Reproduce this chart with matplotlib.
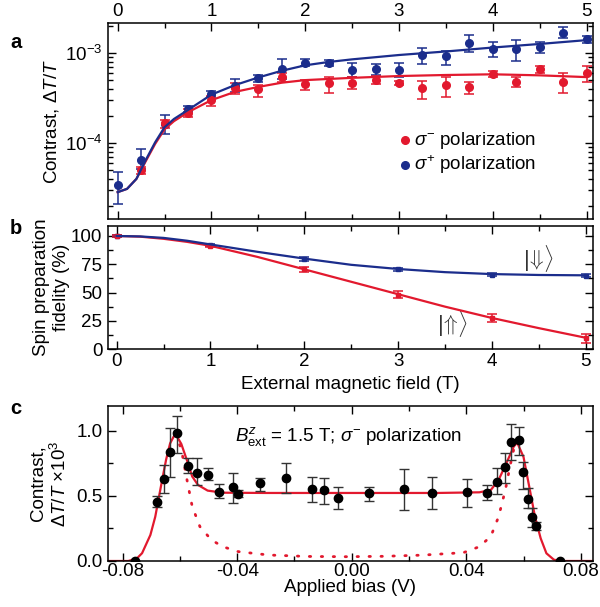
import matplotlib
matplotlib.use('Agg')
import matplotlib.pyplot as plt
import numpy as np
from matplotlib.ticker import MultipleLocator, LogLocator, FormatStrFormatter

plt.rcParams['font.family'] = ['Liberation Sans', 'DejaVu Sans']
plt.rcParams['mathtext.fontset'] = 'custom'
plt.rcParams['mathtext.rm'] = 'Liberation Sans'
plt.rcParams['mathtext.it'] = 'Liberation Sans:italic'
plt.rcParams['mathtext.bf'] = 'Liberation Sans:bold'
plt.rcParams['font.size'] = 13.5

red = '#e2192e'
blue = '#1b2d8c'

# ---- panel a: contrast vs field
field_a = [0, 0.25, 0.5, 0.75, 1.0, 1.25, 1.5, 1.75, 2.0, 2.25, 2.5, 2.75, 3.0,
           3.25, 3.5, 3.75, 4.0, 4.25, 4.5, 4.75, 5.0]
sp_val = [3.41e-5, 6.5e-5, 1.63e-4, 2.37e-4, 3.5e-4, 4.3e-4, 5.24e-4, 6.6e-4, 7.8e-4, 7.8e-4,
          6.5e-4, 6.6e-4, 6.5e-4, 9.5e-4, 9.3e-4, 1.3e-3, 1.1e-3, 1.1e-3, 1.16e-3, 1.68e-3, 1.42e-3]
sp_hi = [4.8e-5, 8.6e-5, 2.05e-4, 2.55e-4, 3.78e-4, 5.2e-4, 5.7e-4, 8.5e-4, 8.5e-4, 8.4e-4,
         7.8e-4, 7.5e-4, 7.8e-4, 1.15e-3, 1.06e-3, 1.58e-3, 1.34e-3, 1.4e-3, 1.34e-3, 1.93e-3, 1.55e-3]
sp_lo = [2.1e-5, 5.1e-5, 1.25e-4, 2.2e-4, 3.22e-4, 3.7e-4, 4.8e-4, 5.1e-4, 7.2e-4, 7.25e-4,
         5.37e-4, 5.7e-4, 5.37e-4, 7.5e-4, 7.36e-4, 1.03e-3, 9.1e-4, 8.2e-4, 9.9e-4, 1.46e-3, 1.28e-3]

field_am = field_a[1:]
sm_val = [5.0e-5, 1.65e-4, 2.17e-4, 3.0e-4, 4.04e-4, 3.95e-4, 5.37e-4, 4.5e-4, 4.6e-4, 4.6e-4,
          5.0e-4, 4.7e-4, 4.04e-4, 4.4e-4, 4.16e-4, 5.8e-4, 4.8e-4, 6.6e-4, 4.8e-4, 5.94e-4]
sm_hi = [5.4e-5, 1.8e-4, 2.37e-4, 3.33e-4, 4.6e-4, 4.4e-4, 5.94e-4, 5.0e-4, 5.45e-4, 5.37e-4,
         5.5e-4, 4.95e-4, 4.93e-4, 5.37e-4, 4.8e-4, 6.3e-4, 5.37e-4, 7.2e-4, 5.94e-4, 7.2e-4]
sm_lo = [4.5e-5, 1.46e-4, 1.96e-4, 2.57e-4, 3.5e-4, 3.22e-4, 4.8e-4, 3.9e-4, 3.63e-4, 3.95e-4,
         4.5e-4, 4.45e-4, 3.06e-4, 3.22e-4, 3.5e-4, 5.37e-4, 4.2e-4, 6.04e-4, 3.63e-4, 4.8e-4]

fit_x_a = [0, 0.1, 0.2, 0.3, 0.4, 0.5, 0.6, 0.75, 1.0, 1.25, 1.5, 1.75, 2.0, 2.25, 2.5,
           3.0, 3.5, 4.0, 4.5, 5.0]
fit_sp = [2.85e-5, 3.1e-5, 4.0e-5, 6.5e-5, 1.02e-4, 1.5e-4, 1.85e-4, 2.33e-4, 3.45e-4, 4.4e-4,
          5.35e-4, 6.35e-4, 7.3e-4, 7.95e-4, 8.5e-4, 9.5e-4, 1.04e-3, 1.15e-3, 1.26e-3, 1.39e-3]
fit_sm = [2.85e-5, 3.1e-5, 4.0e-5, 6.3e-5, 9.8e-5, 1.42e-4, 1.75e-4, 2.2e-4, 3.0e-4, 3.7e-4,
          4.2e-4, 4.68e-4, 5.0e-4, 5.15e-4, 5.3e-4, 5.55e-4, 5.7e-4, 5.8e-4, 5.65e-4, 5.4e-4]

# ---- panel b: spin preparation fidelity
field_b = [0, 1, 2, 3, 4, 5]
fid_down = [100, 92, 79.5, 70.5, 65.8, 65.0]
fid_down_err = [0.6, 1.0, 1.5, 1.5, 1.5, 1.5]
fid_up = [100, 91, 70.5, 48, 27.5, 9.5]
fid_up_err = [0.6, 1.0, 2.0, 3.0, 3.2, 3.8]
fit_x_b = [0, 0.25, 0.5, 0.75, 1.0, 1.5, 2.0, 2.5, 3.0, 3.5, 4.0, 4.5, 5.0]
fit_down = [100, 99.6, 98.3, 95.8, 92.5, 86, 80, 74.5, 70.8, 68, 66.3, 65.5, 65.2]
fit_up = [100, 99.4, 97.5, 94.8, 91.3, 81.5, 70.5, 59.5, 48.5, 37.5, 27.5, 18.5, 10]

# ---- panel c: contrast vs applied bias
bias = [-0.0755, -0.068, -0.0657, -0.0633, -0.061, -0.0573, -0.054, -0.0503, -0.0463, -0.0416,
        -0.0396, -0.032, -0.0229, -0.0138, -0.0098, -0.0049, 0.0061, 0.0181, 0.0281, 0.0403,
        0.0473, 0.0506, 0.0537, 0.0557, 0.0583, 0.0599, 0.0617, 0.063, 0.0644, 0.0729]
con = [0.0, 0.456, 0.628, 0.838, 0.982, 0.731, 0.68, 0.662, 0.533, 0.567,
       0.515, 0.603, 0.641, 0.551, 0.546, 0.482, 0.521, 0.551, 0.521, 0.531,
       0.526, 0.61, 0.721, 0.913, 0.931, 0.687, 0.477, 0.341, 0.269, 0.0]
con_hi = [0.0, 0.5, 0.738, 1.026, 1.115, 0.79, 0.79, 0.713, 0.592, 0.68,
          0.545, 0.636, 0.756, 0.649, 0.641, 0.567, 0.572, 0.705, 0.644, 0.631,
          0.585, 0.713, 0.828, 1.054, 1.033, 0.764, 0.56, 0.405, 0.30, 0.0]
con_lo = [0.0, 0.413, 0.52, 0.649, 0.833, 0.674, 0.585, 0.623, 0.482, 0.449,
          0.49, 0.541, 0.521, 0.456, 0.438, 0.397, 0.464, 0.392, 0.397, 0.418,
          0.469, 0.515, 0.603, 0.777, 0.815, 0.552, 0.405, 0.264, 0.235, 0.0]

fit_x_c = [-0.085, -0.078, -0.075, -0.0732, -0.0703, -0.0686, -0.0675, -0.0663, -0.0648, -0.0634,
           -0.0616, -0.0595, -0.057, -0.0557, -0.0537, -0.0503, -0.045, -0.03, 0.0, 0.03,
           0.0446, 0.0486, 0.0513, 0.054, 0.0566, 0.0578, 0.059, 0.060, 0.062, 0.064,
           0.066, 0.068, 0.0706, 0.073, 0.085]
fit_c = [0, 0, 0.02, 0.06, 0.2, 0.34, 0.47, 0.61, 0.78, 0.905,
         0.98, 0.90, 0.74, 0.65, 0.585, 0.541, 0.525, 0.523, 0.523, 0.523,
         0.528, 0.546, 0.623, 0.751, 0.88, 0.91, 0.85, 0.80, 0.572, 0.341,
         0.174, 0.059, 0.01, 0.0, 0]
dot_x_c = [-0.0616, -0.0595, -0.0574, -0.0557, -0.053, -0.049, -0.045, -0.0396, -0.029, -0.0156,
           -0.002, 0.0112, 0.0246, 0.039, 0.0446, 0.0486, 0.0513, 0.0537, 0.0553, 0.0566]
dot_c = [0.98, 0.86, 0.61, 0.42, 0.264, 0.162, 0.11, 0.072, 0.046, 0.035,
         0.033, 0.036, 0.045, 0.064, 0.11, 0.19, 0.34, 0.55, 0.73, 0.86]

fig = plt.figure(figsize=(6.0, 6.07), dpi=100)
axa = fig.add_axes([0.18, 0.639, 0.808, 0.323])
axb = fig.add_axes([0.18, 0.425, 0.808, 0.203])
axc = fig.add_axes([0.18, 0.0758, 0.808, 0.255])

for ax in (axa, axb, axc):
    for s in ax.spines.values():
        s.set_linewidth(1.1)
    ax.tick_params(which='both', direction='in', top=True, right=True, width=1.0, pad=4)
    ax.tick_params(which='major', length=6)
    ax.tick_params(which='minor', length=3.5)

# panel a
sp_val = np.array(sp_val); sm_val = np.array(sm_val)
axa.errorbar(field_a, sp_val, yerr=[sp_val - np.array(sp_lo), np.array(sp_hi) - sp_val],
             fmt='o', color=blue, ms=5.5, capsize=3.5, elinewidth=1.1, capthick=1.1, zorder=3)
axa.errorbar(field_am, sm_val, yerr=[sm_val - np.array(sm_lo), np.array(sm_hi) - sm_val],
             fmt='o', color=red, ms=5.5, capsize=3.5, elinewidth=1.1, capthick=1.1, zorder=3)
axa.plot(fit_x_a, fit_sm, color=red, lw=1.6, zorder=4)
axa.plot(fit_x_a, fit_sp, color=blue, lw=1.6, zorder=4)
axa.set_yscale('log')
axa.set_xlim(-0.103, 5.067)
axa.set_ylim(1.43e-5, 2.15e-3)
axa.xaxis.set_major_locator(MultipleLocator(1))
axa.xaxis.set_minor_locator(MultipleLocator(0.5))
axa.tick_params(axis='x', which='both', labeltop=True, labelbottom=False, pad=2.5)
axa.yaxis.set_major_locator(LogLocator(base=10, numticks=10))
axa.yaxis.set_minor_locator(LogLocator(base=10, subs=np.arange(2, 10), numticks=10))
axa.set_ylabel(r'Contrast, $\Delta T/T$')
axa.yaxis.set_label_coords(-0.097, 0.5)
axa.plot([0.612], [0.403], 'o', color=red, ms=5.5, transform=axa.transAxes)
axa.plot([0.612], [0.276], 'o', color=blue, ms=5.5, transform=axa.transAxes)
axa.text(0.632, 0.403, r'$\sigma^{-}$ polarization', transform=axa.transAxes, va='center', ha='left')
axa.text(0.632, 0.276, r'$\sigma^{+}$ polarization', transform=axa.transAxes, va='center', ha='left')

# panel b
axb.errorbar(field_b, fid_down, yerr=fid_down_err, fmt='s', color=blue, ms=3.5,
             capsize=3.5, elinewidth=1.1, capthick=1.1, zorder=3)
axb.errorbar(field_b, fid_up, yerr=fid_up_err, fmt='s', color=red, ms=3.5,
             capsize=3.5, elinewidth=1.1, capthick=1.1, zorder=3)
axb.plot(fit_x_b, fit_up, color=red, lw=1.6, zorder=4)
axb.plot(fit_x_b, fit_down, color=blue, lw=1.6, zorder=4)
axb.set_xlim(-0.093, 5.077)
axb.set_ylim(0, 109)
axb.xaxis.set_major_locator(MultipleLocator(1))
axb.xaxis.set_minor_locator(MultipleLocator(0.5))
axb.yaxis.set_major_locator(MultipleLocator(25))
axb.yaxis.set_minor_locator(MultipleLocator(12.5))
axb.tick_params(axis='x', which='both', pad=3)
axb.set_ylabel('Spin preparation\nfidelity (%)', linespacing=1.25)
axb.yaxis.set_label_coords(-0.078, 0.5)
axb.set_xlabel('External magnetic field (T)')
axb.xaxis.set_label_coords(0.5, -0.215)
axb.text(4.5, 80, r'$|\!\Downarrow\!\rangle$', fontsize=16, ha='center', va='center', color='#333333')
axb.text(3.58, 22.5, r'$|\!\Uparrow\!\rangle$', fontsize=16, ha='center', va='center', color='#333333')

# panel c
con = np.array(con)
axc.plot(fit_x_c, fit_c, color=red, lw=1.6, zorder=2)
axc.plot(dot_x_c, dot_c, color=red, lw=2.0, ls=(0, (0.5, 3.8)), dash_capstyle='round', zorder=2)
axc.errorbar(bias, con, yerr=[con - np.array(con_lo), np.array(con_hi) - con],
             fmt='o', color='black', ecolor='#333333', ms=6, capsize=3.5, elinewidth=1.0,
             capthick=1.0, zorder=3)
axc.set_xlim(-0.0851, 0.0842)
axc.set_ylim(0, 1.19)
axc.xaxis.set_major_locator(MultipleLocator(0.04))
axc.xaxis.set_minor_locator(MultipleLocator(0.02))
axc.xaxis.set_major_formatter(FormatStrFormatter('%.2f'))
axc.yaxis.set_major_locator(MultipleLocator(0.5))
axc.yaxis.set_minor_locator(MultipleLocator(0.25))
axc.yaxis.set_major_formatter(FormatStrFormatter('%.1f'))
axc.tick_params(axis='x', which='both', pad=1.5)
axc.set_ylabel('Contrast,\n' + r'$\Delta T/T$ $\times$10$^3$', linespacing=1.25)
axc.yaxis.set_label_coords(-0.078, 0.5)
axc.set_xlabel('Applied bias (V)')
axc.xaxis.set_label_coords(0.5, -0.118)
axc.text(-0.001, 0.954, r'$B^{z}_{\mathrm{ext}}$ = 1.5 T; $\sigma^{-}$ polarization',
         ha='center', va='center')

fig.text(0.017, 1 - 43 / 607, 'a', fontweight='bold', fontsize=14.5, va='center')
fig.text(0.017, 1 - 229 / 607, 'b', fontweight='bold', fontsize=14.5, va='center')
fig.text(0.017, 1 - 408 / 607, 'c', fontweight='bold', fontsize=14.5, va='center')

fig.savefig('out.png', dpi=100)
